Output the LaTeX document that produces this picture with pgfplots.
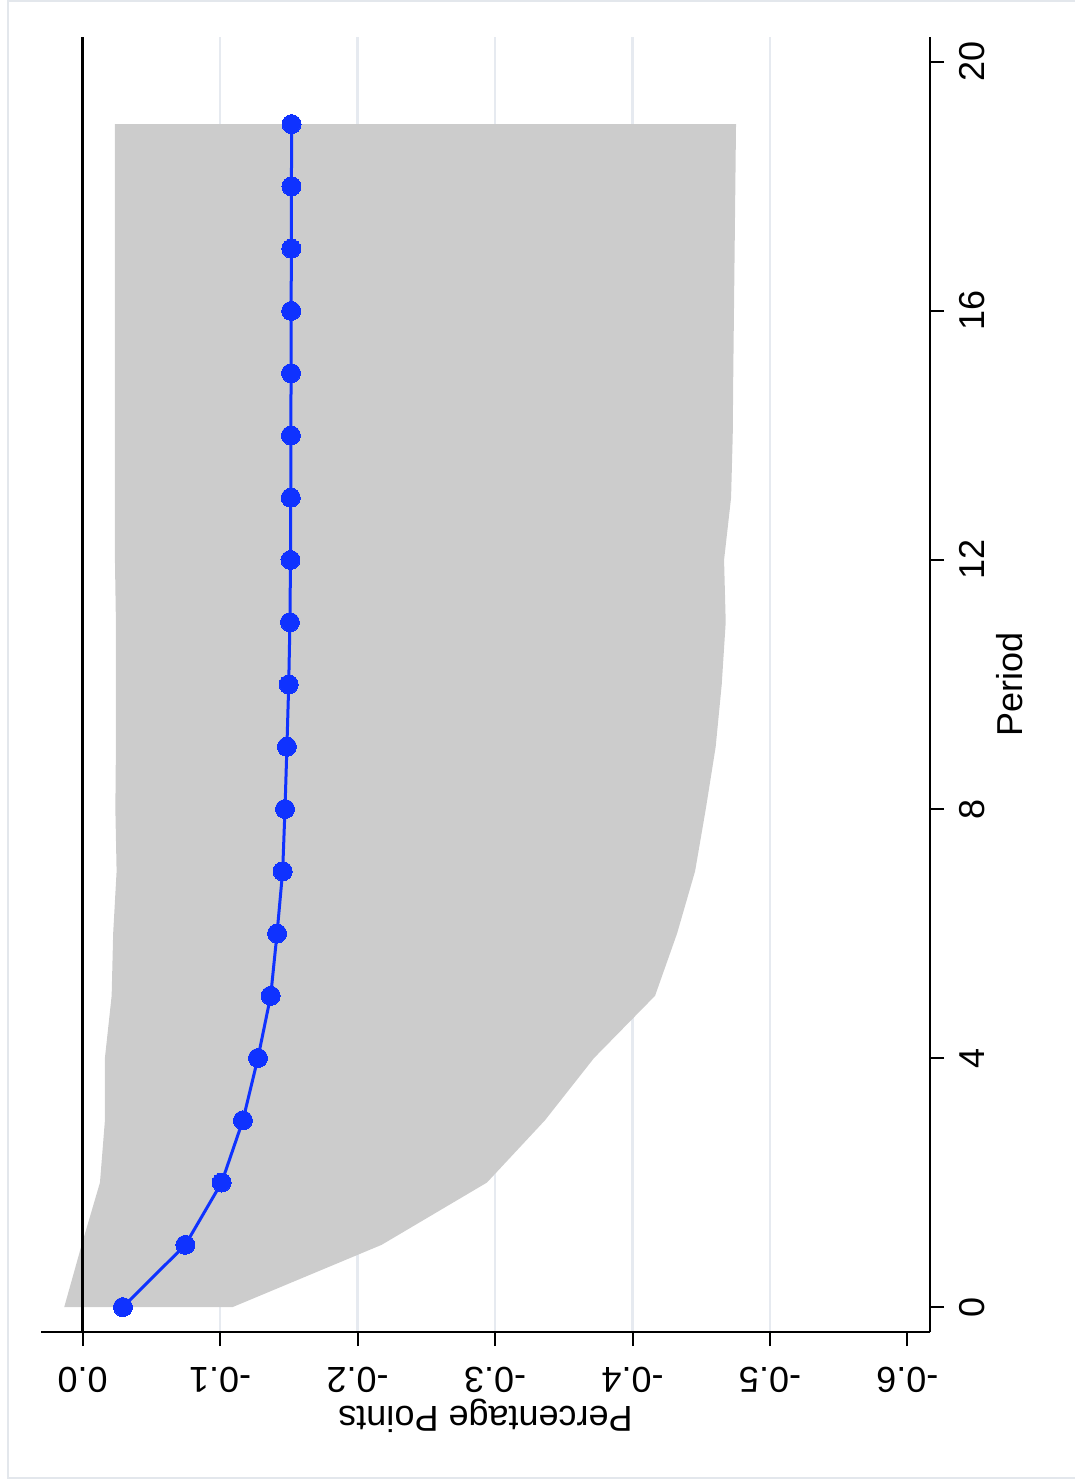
\documentclass[border=0pt]{standalone}
\usepackage{graphicx}
\usepackage{fontspec}
\setmainfont{Liberation Sans}
\usepackage{pgfplots}
\pgfplotsset{compat=1.18}
\usepgfplotslibrary{fillbetween}
\definecolor{bandgray}{HTML}{CCCCCC}
\definecolor{lineblue}{RGB}{15,50,255}
\definecolor{gridc}{HTML}{E6EAF0}
\definecolor{framec}{HTML}{E3E7EC}
\pgfplotstableread{
x up lo
0 0.0134 -0.1091
1 0.0007 -0.2175
2 -0.0126 -0.2941
3 -0.0162 -0.3363
4 -0.0162 -0.3720
5 -0.0211 -0.4164
6 -0.0222 -0.4324
7 -0.0247 -0.4455
8 -0.0238 -0.4533
9 -0.0242 -0.4605
10 -0.0242 -0.4649
11 -0.0242 -0.4678
12 -0.0235 -0.4666
13 -0.0235 -0.4717
14 -0.0235 -0.4729
15 -0.0235 -0.4733
16 -0.0235 -0.4738
17 -0.0235 -0.4743
18 -0.0235 -0.4748
19 -0.0235 -0.4753
}\bandtable
\pgfplotstableread{
x y
0 -0.0293
1 -0.0747
2 -0.1011
3 -0.1166
4 -0.1275
5 -0.1368
6 -0.1414
7 -0.1455
8 -0.1472
9 -0.1486
10 -0.1499
11 -0.1508
12 -0.1512
13 -0.1514
14 -0.1515
15 -0.1516
16 -0.1517
17 -0.1518
18 -0.1519
19 -0.1520
}\irftable
\begin{document}
\rotatebox{90}{%
\begin{tikzpicture}
\begin{axis}[
  at={(0,0)}, anchor=south west,
  scale only axis, width=647.5pt, height=444.5pt,
  xmin=-0.4, xmax=20.4, ymin=-0.6164, ymax=0.0303,
  axis x line*=bottom, axis y line*=left,
  axis line style={line width=1pt, -},
  tick style={line width=1pt, black},
  major tick length=7pt,
  tick align=outside,
  xtick={0,4,8,12,16,20},
  ytick={-0.6,-0.5,-0.4,-0.3,-0.2,-0.1,0},
  yticklabels={-0.6,-0.5,-0.4,-0.3,-0.2,-0.1,0.0},
  /pgf/number format/assume math mode=true,
  ticklabel style={font=\fontsize{18}{20}\selectfont},
  xticklabel style={anchor=north, inner sep=0pt, inner ysep=7.5pt},
  yticklabel style={rotate=90, anchor=south, inner xsep=0pt, inner ysep=10.5pt},
  extra y ticks={-0.5,-0.4,-0.3,-0.2,-0.1},
  extra y tick labels={},
  extra y tick style={ymajorgrids=true, major tick length=0pt},
  major grid style={gridc, line width=1.3pt},
  xlabel={Period},
  ylabel={Percentage Points},
  label style={font=\fontsize{18}{20}\selectfont},
  xlabel style={at={(axis description cs:0.5,-0.1035)}, anchor=base},
  ylabel style={at={(axis description cs:-0.0579,0.5)}, rotate=0, anchor=base},
]
\addplot[name path=up, draw=none, forget plot] table[x=x, y=up] {\bandtable};
\addplot[name path=lo, draw=none, forget plot] table[x=x, y=lo] {\bandtable};
\addplot[bandgray, forget plot] fill between[of=up and lo];
\addplot[black, line width=1.3pt, forget plot] coordinates {(-0.4,0) (20.4,0)};
\addplot[lineblue, line width=1.5pt, mark=*, mark size=4.75pt,
  mark options={solid, fill=lineblue, draw=lineblue, line width=0pt}] table[x=x, y=y] {\irftable};
\end{axis}
\pgfresetboundingbox
\path[use as bounding box] (-75pt,-72.5pt) rectangle (666pt,465pt);
\draw[framec, line width=1pt] (-73pt,-80pt) rectangle (665.5pt,461pt);
\end{tikzpicture}}
\end{document}
